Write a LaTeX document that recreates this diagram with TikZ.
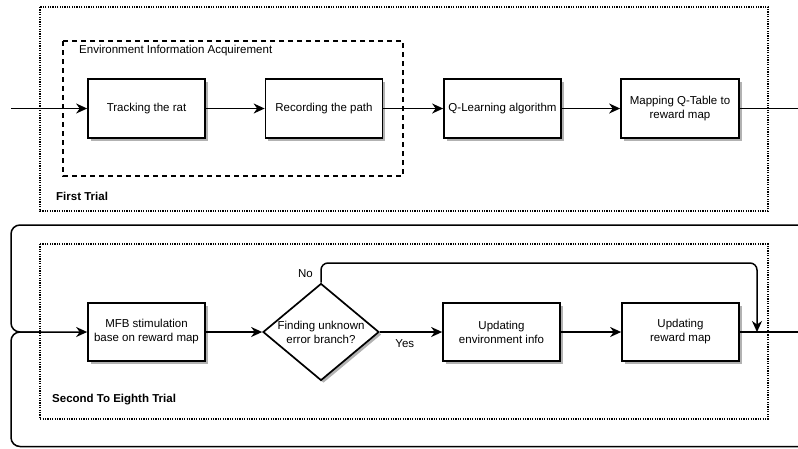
\documentclass[tikz,border=0pt]{standalone}
\usepackage{fontspec}
\setmainfont{Liberation Sans}
\usetikzlibrary{arrows.meta,shapes.geometric,shadows}
\begin{document}
\begin{tikzpicture}[x=1pt,y=-1pt,
  every node/.style={font=\fontsize{11.5}{14}\selectfont},
  procbox/.style={draw, line width=1.7pt, fill=white, minimum width=117pt, minimum height=59pt, inner sep=1pt, align=center,
    drop shadow={shadow xshift=2.5pt, shadow yshift=-2.5pt, fill=black!30, opacity=1}},
  decbox/.style={draw, diamond, line width=1.7pt, fill=white, minimum width=116pt, minimum height=97pt, inner sep=0pt,
    drop shadow={shadow xshift=2.5pt, shadow yshift=-2.5pt, fill=black!30, opacity=1}},
  flow/.style={line width=1.5pt, -{Stealth[length=11pt,width=10pt,inset=3.5pt]}},
  plainline/.style={line width=1.5pt},
  trialframe/.style={line width=1.3pt, dash pattern=on 1.2pt off 1.2pt},
  groupframe/.style={line width=1.6pt, dash pattern=on 5pt off 4pt},
  framelabel/.style={anchor=west, inner sep=0pt},
  ]
\useasboundingbox (0,0) rectangle (798,448);

% frames
\draw[trialframe] (40,7) rectangle (768,211);
\draw[groupframe] (63,41) rectangle (403,176);
\draw[trialframe] (40,244) rectangle (768,419);
\node[framelabel] (envlbl) at (79,51) {Environment Information Acquirement};
\node[framelabel] (ftlbl) at (56,196) {\bfseries First Trial};
\node[framelabel] (stlbl) at (52,400) {\bfseries Second To Eighth Trial};

% first row
\node[procbox] (track) at (146.5,108.5) {Tracking the rat};
\node[procbox] (record) at (324,108.5) {Recording the path};
\node[procbox] (qlearn) at (502.5,108.5) {Q-Learning algorithm};
\node[procbox, minimum width=118pt] (mapq) at (680,108.5) {Mapping Q-Table to\\reward map};
\coordinate (in1) at (11,108.5);
\coordinate (out1) at (798,108.5);

\draw[flow] (in1) -- (track);
\draw[flow] (track) -- (record);
\draw[flow] (record) -- (qlearn);
\draw[flow] (qlearn) -- (mapq);
\draw[plainline] (mapq) -- (out1);

% second row
\node[procbox, minimum height=58pt] (mfb) at (146.5,332) {MFB stimulation\\base on reward map};
\node[decbox] (dec) at (321,332) {};
\node[align=center, inner sep=0pt] (dectxt) at (dec.center) {Finding unknown\\error branch?};
\node[procbox, minimum height=58pt] (upenv) at (501.5,332) {Updating\\environment info};
\node[procbox, minimum height=58pt] (uprew) at (680.5,332) {Updating\\reward map};

\coordinate (loopin) at (798,225);
\coordinate (merge) at (11,332);
\coordinate (loopbot) at (798,446.5);
\coordinate (out2) at (798,332);
\coordinate (noturn) at (757,263);
\coordinate (noend) at (757,332);

\draw[flow, rounded corners=9pt] (loopin) -| (merge) -- (mfb);
\draw[plainline, rounded corners=9pt] (loopbot) -| (merge) -- (40,332);
\draw[flow] (mfb) -- (dec);
\draw[flow] (dec) -- (upenv) node[pos=0.4, below=3pt] (yes) {Yes};
\draw[flow] (upenv) -- (uprew);
\draw[plainline] (uprew) -- (out2);
\draw[flow, rounded corners=7pt] (dec.north) |- (noturn) -- (noend);
\node (no) at (305.5,274) {No};
\end{tikzpicture}
\end{document}
